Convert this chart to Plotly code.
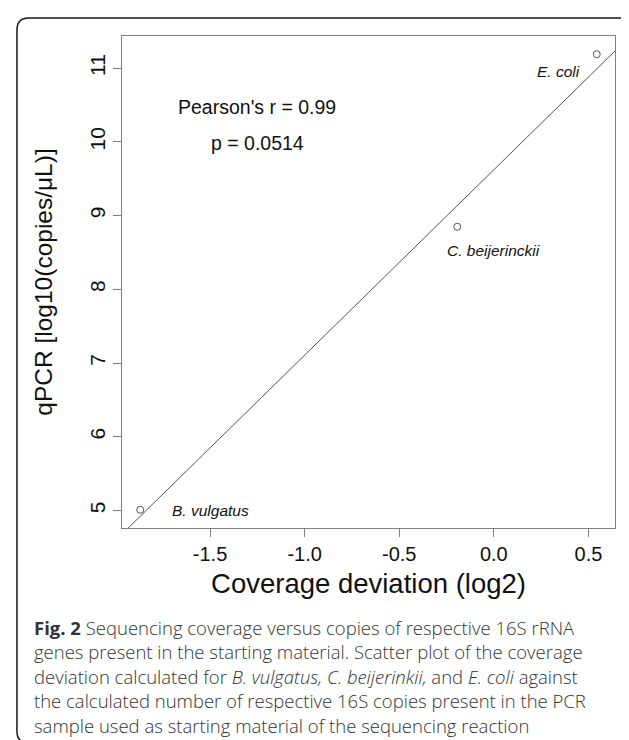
import plotly.graph_objects as go

# ---- data ----
species = ["B. vulgatus", "C. beijerinckii", "E. coli"]
coverage_dev = [-1.869, -0.193, 0.544]
qpcr_log10 = [5.01, 8.85, 11.19]

# label anchor positions (data units)
label_x = [-1.50, 0.00, 0.34]
label_y = [5.00, 8.53, 10.96]

x_ticks = [-1.5, -1.0, -0.5, 0.0, 0.5]
x_ticktext = ["-1.5", "-1.0", "-0.5", "0.0", "0.5"]
y_ticks = [5, 6, 7, 8, 9, 10, 11]

stats_text = ["Pearson's r = 0.99", "p = 0.0514"]
stats_x = [-1.25, -1.25]
stats_y = [10.48, 9.98]

caption_lines = [
    "<b>Fig. 2</b> Sequencing coverage versus copies of respective 16S rRNA",
    "genes present in the starting material. Scatter plot of the coverage",
    "deviation calculated for <i>B. vulgatus, C. beijerinkii,</i> and <i>E. coli</i> against",
    "the calculated number of respective 16S copies present in the PCR",
    "sample used as starting material of the sequencing reaction",
]

# ---- regression line (least squares of y on x) ----
n = len(coverage_dev)
mx = sum(coverage_dev) / n
my = sum(qpcr_log10) / n
sxy = sum((a - mx) * (b - my) for a, b in zip(coverage_dev, qpcr_log10))
sxx = sum((a - mx) ** 2 for a in coverage_dev)
slope = sxy / sxx
intercept = my - slope * mx

# R-style 4% axis padding
def padded(v):
    lo, hi = min(v), max(v)
    d = (hi - lo) * 0.04
    return [lo - d, hi + d]

xr = padded(coverage_dev)
yr = padded(qpcr_log10)

W, H = 629, 740
L, R, T, B = 114, 606.7, 28, 520
PW, PH = R - L, B - T

def px(x):
    return (x - L) / PW

def py(y):
    return (B - y) / PH

fig = go.Figure()

fig.add_trace(go.Scatter(
    x=[xr[0], xr[1]],
    y=[intercept + slope * xr[0], intercept + slope * xr[1]],
    mode="lines", line=dict(color="#555555", width=1),
    hoverinfo="skip", showlegend=False, cliponaxis=True,
))
fig.add_trace(go.Scatter(
    x=coverage_dev, y=qpcr_log10, mode="markers",
    marker=dict(symbol="circle-open", size=7, color="#555555", line=dict(width=1)),
    text=species, showlegend=False,
))

annotations = []
for s, x, y in zip(species, label_x, label_y):
    annotations.append(dict(x=x, y=y, xref="x", yref="y", text="<i>%s</i>" % s,
                            showarrow=False, font=dict(size=15.5, color="#111111",
                            family="Liberation Sans, Arial, sans-serif")))
for s, x, y in zip(stats_text, stats_x, stats_y):
    annotations.append(dict(x=x, y=y, xref="x", yref="y", text=s, showarrow=False,
                            font=dict(size=19.5, color="#111111",
                                      family="Liberation Sans, Arial, sans-serif")))

cap_y0, cap_dy = 619, 24.5
for i, line in enumerate(caption_lines):
    annotations.append(dict(x=px(24), y=py(cap_y0 + i * cap_dy), xref="paper", yref="paper",
                            xanchor="left", yanchor="middle", text=line, showarrow=False,
                            font=dict(size=18.5, color="#333333", weight=300,
                                      family="Open Sans, Noto Sans, sans-serif")))

# card border (rounded rectangle)
x0, x1, y0, y1, r = 9, 627.5, 10, 735, 12
def P(x, y):
    return "%.5f,%.5f" % (px(x), py(y))
path = ("M " + P(x0 + r, y0) + " L " + P(x1 - r, y0) + " Q " + P(x1, y0) + " " + P(x1, y0 + r) +
        " L " + P(x1, y1 - r) + " Q " + P(x1, y1) + " " + P(x1 - r, y1) +
        " L " + P(x0 + r, y1) + " Q " + P(x0, y1) + " " + P(x0, y1 - r) +
        " L " + P(x0, y0 + r) + " Q " + P(x0, y0) + " " + P(x0 + r, y0) + " Z")
shapes = [dict(type="path", xref="paper", yref="paper", path=path,
               line=dict(color="#1a1a1a", width=1.5), layer="below")]

axis_font = dict(family="Liberation Sans, Arial, sans-serif", color="#111111")
fig.update_layout(
    width=W, height=H,
    margin=dict(l=L, r=W - R, t=T, b=H - B, pad=0),
    paper_bgcolor="white", plot_bgcolor="white",
    showlegend=False,
    annotations=annotations,
    shapes=shapes,
    xaxis=dict(range=xr, tickvals=x_ticks, ticktext=x_ticktext,
               showgrid=False, zeroline=False, showline=True, mirror=True,
               linecolor="#808080", linewidth=1, ticks="outside", ticklen=8,
               tickcolor="#808080", tickfont=dict(size=20, **axis_font),
               title=dict(text="Coverage deviation (log2)", font=dict(size=27.5, **axis_font),
                          standoff=9)),
    yaxis=dict(range=yr, tickvals=y_ticks, tickangle=-90,
               showgrid=False, zeroline=False, showline=True, mirror=True,
               linecolor="#808080", linewidth=1, ticks="outside", ticklen=8,
               tickcolor="#808080", tickfont=dict(size=21, **axis_font),
               title=dict(text="qPCR [log10(copies/\u03bcL)]", font=dict(size=24.5, **axis_font),
                          standoff=26)),
)

fig.write_html("out.html")
